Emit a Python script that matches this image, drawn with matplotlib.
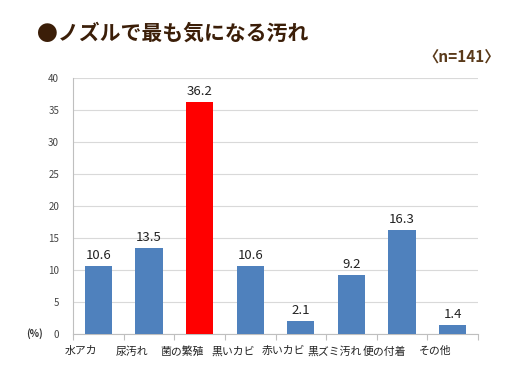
import matplotlib.pyplot as plt

plt.rcParams['font.family'] = ['Noto Sans CJK JP', 'DejaVu Sans']

categories = ["水アカ", "尿汚れ", "菌の繁殖", "黒いカビ", "赤いカビ", "黒ズミ汚れ", "便の付着", "その他"]
values = [10.6, 13.5, 36.2, 10.6, 2.1, 9.2, 16.3, 1.4]
highlight = "菌の繁殖"
yticks = [0, 5, 10, 15, 20, 25, 30, 35, 40]

colors = ["#FF0000" if c == highlight else "#4F81BD" for c in categories]

fig = plt.figure(figsize=(5.19, 3.76), dpi=100)
ax = fig.add_axes([0.1407, 0.1117, 0.7803, 0.681])

x = range(len(categories))
bars = ax.bar(x, values, width=0.54, color=colors, zorder=3)
for b, v in zip(bars, values):
    ax.text(b.get_x() + b.get_width() / 2, v + 0.6, f"{v:.1f}", ha="center", va="bottom",
            fontsize=9.5, color="#222222")

ax.set_xlim(-0.5, len(categories) - 0.5)
ax.set_ylim(0, 40)
ax.set_yticks(yticks)
ax.set_yticklabels([str(t) for t in yticks], fontsize=7, color="#444444")
ax.yaxis.grid(True, color="#d9d9d9", linewidth=0.8, zorder=0)
ax.tick_params(axis="y", length=0, pad=10)

ax.set_xticks([i + 0.5 for i in range(-1, len(categories))], minor=False)
ax.set_xticklabels([])
ax.tick_params(axis="x", length=4, color="#bfbfbf", direction="out")
# category labels sit a little left of each bar, as in the original
for i, c in enumerate(categories):
    ax.text(i - 0.34, -1.9, c, ha="center", va="top", fontsize=7.8, color="#222222")

for s in ["top", "right"]:
    ax.spines[s].set_visible(False)
ax.spines["left"].set_color("#bfbfbf")
ax.spines["bottom"].set_color("#bfbfbf")

ax.text(-0.075, 0, "(%)", transform=ax.get_yaxis_transform(), ha="right", va="center",
        fontsize=7, fontweight="bold", color="#333333")

fig.text(37 / 519, 1 - 33 / 376, "●ノズルで最も気になる汚れ", fontsize=15, fontweight="bold",
         color="#3b1e08", va="center", ha="left")
fig.text(500 / 519, 1 - 57 / 376, "〈n=141〉", fontsize=11, fontweight="bold",
         color="#5a3a1a", va="center", ha="right")

fig.savefig("out.png", dpi=100)
